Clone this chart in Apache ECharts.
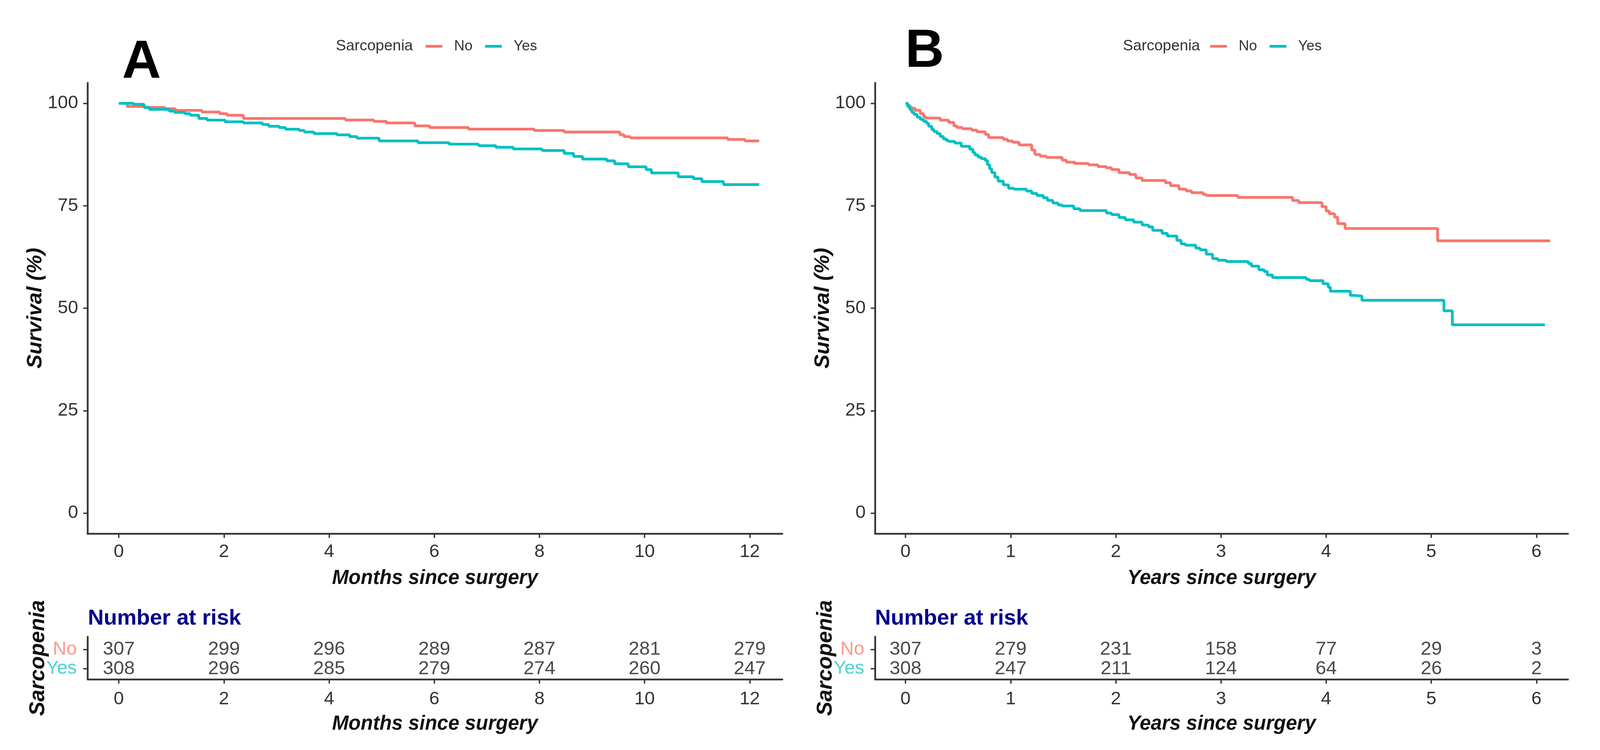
<!DOCTYPE html>
<html>
<head>
<meta charset="utf-8">
<script src="https://cdn.jsdelivr.net/npm/echarts@6/dist/echarts.min.js"></script>
<style>
html,body{margin:0;padding:0;background:#fff;overflow:hidden;}
#chart{width:100vw;height:100vh;}
</style>
</head>
<body>
<div id="chart"></div>
<script>
// ---------- DATA ----------
const monthTicks = [0, 2, 4, 6, 8, 10, 12];
const yearTicks = [0, 1, 2, 3, 4, 5, 6];
const survTicks = [0, 25, 50, 75, 100];
const groups = ['No', 'Yes'];

// Panel A (months): [time, survival %] after each step
const survA_No = [[0,100],[0.16,99.24],[0.5,98.99],[0.88,98.67],[1.08,98.29],[1.58,97.88],[1.92,97.47],[2.06,97.1],[2.37,96.3],[4.31,95.92],[4.85,95.58],[5.09,95.2],[5.63,94.5],[5.91,94.09],[6.65,93.71],[7.9,93.36],[8.47,92.98],[9.53,92.35],[9.61,91.88],[9.73,91.56],[11.58,91.18],[11.91,90.83],[12.18,90.83]];
const survA_Yes = [[0,100],[0.28,99.75],[0.48,99.0],[0.58,98.52],[0.96,98.1],[1.06,97.79],[1.26,97.47],[1.36,97.1],[1.52,96.3],[1.68,95.89],[2.02,95.5],[2.37,95.2],[2.73,94.82],[2.85,94.4],[3.05,94.09],[3.17,93.68],[3.43,93.36],[3.53,92.98],[3.71,92.6],[4.15,92.29],[4.39,91.88],[4.53,91.5],[4.95,90.83],[5.69,90.39],[6.28,90.04],[6.84,89.66],[7.17,89.28],[7.5,88.87],[8.05,88.49],[8.47,87.76],[8.65,87.04],[8.82,86.4],[9.28,85.96],[9.43,85.24],[9.69,84.5],[10.03,83.81],[10.13,83.0],[10.64,82.07],[10.93,81.6],[11.09,80.9],[11.5,80.17],[12.18,80.17]];

// Panel B (years)
const survB_No = [[0,100],[0.02,99.5],[0.04,99.0],[0.06,98.8],[0.09,98.3],[0.14,97.5],[0.17,96.8],[0.19,96.4],[0.33,95.87],[0.41,95.36],[0.46,94.5],[0.49,94.09],[0.54,93.79],[0.63,93.45],[0.68,93.03],[0.76,92.39],[0.79,91.63],[0.93,91.2],[0.97,90.79],[1.02,90.48],[1.08,89.85],[1.20,88.58],[1.23,87.52],[1.28,87.1],[1.34,86.8],[1.49,86.12],[1.53,85.62],[1.61,85.32],[1.74,84.98],[1.83,84.55],[1.91,84.26],[1.96,83.83],[2.03,83.07],[2.13,82.65],[2.19,81.8],[2.25,81.17],[2.47,80.62],[2.52,79.9],[2.60,79.05],[2.67,78.62],[2.72,78.2],[2.83,77.78],[2.86,77.49],[3.16,77.05],[3.68,76.28],[3.74,75.77],[3.96,74.78],[4.0,73.72],[4.03,73.07],[4.08,72.22],[4.11,70.64],[4.18,69.44],[5.06,66.45],[6.13,66.45]];
const survB_Yes = [[0,100],[0.02,99.2],[0.04,98.5],[0.06,97.8],[0.08,97.3],[0.11,96.6],[0.14,96.1],[0.17,95.6],[0.20,95.1],[0.22,94.4],[0.25,93.6],[0.27,93.1],[0.30,92.6],[0.33,91.9],[0.36,91.3],[0.39,90.9],[0.41,90.7],[0.47,90.3],[0.53,89.5],[0.61,88.8],[0.64,88.0],[0.66,87.4],[0.69,86.9],[0.72,86.5],[0.76,86.0],[0.78,85.0],[0.80,84.0],[0.82,83.1],[0.85,82.0],[0.88,81.0],[0.93,80.1],[0.98,79.27],[1.03,79.05],[1.15,78.6],[1.20,78.0],[1.25,77.5],[1.31,76.94],[1.35,76.3],[1.40,75.66],[1.45,75.2],[1.49,74.94],[1.60,74.26],[1.66,73.84],[1.91,73.2],[1.96,72.83],[2.03,72.15],[2.09,71.56],[2.17,71.0],[2.25,70.3],[2.31,69.86],[2.35,69.0],[2.44,68.26],[2.49,67.62],[2.58,66.56],[2.62,65.7],[2.66,65.37],[2.76,64.65],[2.80,64.22],[2.86,63.17],[2.92,62.1],[2.97,61.7],[3.05,61.4],[3.26,60.89],[3.29,60.26],[3.36,59.4],[3.41,58.97],[3.44,58.11],[3.49,57.48],[3.81,57.05],[3.84,56.71],[3.97,55.98],[4.02,55.12],[4.04,54.15],[4.23,53.11],[4.27,52.99],[4.34,51.92],[5.12,49.36],[5.20,45.94],[6.08,45.94]];

// Number at risk
const riskA_No = [307, 299, 296, 289, 287, 281, 279];
const riskA_Yes = [308, 296, 285, 279, 274, 260, 247];
const riskB_No = [307, 279, 231, 158, 77, 29, 3];
const riskB_Yes = [308, 247, 211, 124, 64, 26, 2];

// ---------- LAYOUT HELPERS (reference is 4350 x 1920) ----------
const W = 4350, H = 1920;
const px = v => (v / W * 100) + '%';
const py = v => (v / H * 100) + '%';

const FF = "'Liberation Sans', Arial, sans-serif";
const RED = '#F8766D', CYAN = '#00BFC4';
const LABEL_COL = { No: '#F97F78', Yes: '#22C6CB' };
const AXC = '#333333';
const rowValue = { No: 2, Yes: 1 };
const xRangeA = [-0.595, 12.62];
const xRangeB = [-0.29, 6.30];

function axisLineCfg() { return { show: true, onZero: false, lineStyle: { color: AXC, width: 4.5 } }; }
function tickCfg(vals) { return { show: true, length: 11, lineStyle: { color: AXC, width: 3.5 }, customValues: vals }; }

function xAxisCfg(grid, range, ticks, name, margin) {
  return {
    type: 'value', gridIndex: grid, min: range[0], max: range[1],
    axisLine: axisLineCfg(), axisTick: tickCfg(ticks), splitLine: { show: false },
    axisLabel: { customValues: ticks, showMinLabel: true, showMaxLabel: true, fontSize: 47, color: AXC, fontFamily: FF, margin: margin },
    name: name, nameLocation: 'middle', nameGap: 89,
    nameTextStyle: { fontSize: 51, fontWeight: 'bold', fontStyle: 'italic', color: '#111', fontFamily: FF }
  };
}
function yMainCfg(grid) {
  return {
    type: 'value', gridIndex: grid, min: -5, max: 105,
    axisLine: axisLineCfg(), axisTick: tickCfg(survTicks), splitLine: { show: false },
    axisLabel: { customValues: survTicks, showMinLabel: true, showMaxLabel: true, fontSize: 47, color: AXC, fontFamily: FF, margin: 24 },
    name: 'Survival (%)', nameLocation: 'middle', nameGap: 92,
    nameTextStyle: { fontSize: 54, fontWeight: 'bold', fontStyle: 'italic', color: '#111', fontFamily: FF }
  };
}
function yRiskCfg(grid) {
  return {
    type: 'value', gridIndex: grid, min: 0.45, max: 2.67,
    axisLine: axisLineCfg(), axisTick: tickCfg([1, 2]), splitLine: { show: false },
    axisLabel: { show: false },
    name: 'Sarcopenia', nameLocation: 'middle', nameGap: 99,
    nameTextStyle: { fontSize: 55, fontWeight: 'bold', fontStyle: 'italic', color: '#111', fontFamily: FF }
  };
}
function lineSeries(name, data, color, xi, yi) {
  return { type: 'line', name: name, data: data, step: 'end', showSymbol: false, symbol: 'none',
    color: color, lineStyle: { color: color, width: 7 }, xAxisIndex: xi, yAxisIndex: yi, animation: false, z: 3 };
}
function riskSeries(name, ticks, counts, row, xi, yi) {
  return { type: 'scatter', name: name, xAxisIndex: xi, yAxisIndex: yi, symbolSize: 1,
    itemStyle: { color: 'rgba(0,0,0,0)' }, animation: false, silent: true, clip: false,
    data: ticks.map((t, i) => [t, row, counts[i]]),
    labelLayout: { hideOverlap: false },
    label: { show: true, position: 'inside', offset: [0, 9], lineHeight: 42,
      formatter: p => String(p.value[2]), fontSize: 49, color: '#1c1c1c', fontFamily: FF } };
}
function rowLabelSeries(name, xmin, xi, yi) {
  return { type: 'scatter', name: name, xAxisIndex: xi, yAxisIndex: yi, symbolSize: 1,
    itemStyle: { color: 'rgba(0,0,0,0)' }, animation: false, silent: true, clip: false,
    labelLayout: { hideOverlap: false },
    data: groups.map(g => ({ value: [xmin, rowValue[g], g], label: { color: LABEL_COL[g] } })),
    label: { show: true, position: 'left', distance: 27, offset: [0, 8], lineHeight: 42,
      formatter: p => p.value[2], fontSize: 48, fontFamily: FF } };
}
function legendCfg(left) {
  return { left: px(left), top: py(100), padding: 0, icon: 'rect', itemWidth: 43, itemHeight: 7, itemGap: 32,
    selectedMode: false, data: groups,
    textStyle: { fontSize: 37, color: '#333', fontFamily: FF, padding: [0, 0, 0, 25] } };
}
function titleCfg(text, left, top, size, weight, color) {
  return { text: text, left: px(left), top: py(top), padding: 0,
    textStyle: { fontSize: size, fontWeight: weight, color: color, fontFamily: FF } };
}
function gridCfg(left, top, width, height) {
  return { left: px(left), top: py(top), width: px(width), height: py(height) };
}

const option = {
  backgroundColor: '#fff',
  animation: false,
  title: [
    titleCfg('A', 332, 92, 138, 'bold', '#000'),
    titleCfg('B', 2461, 64, 138, 'bold', '#000'),
    titleCfg('Sarcopenia', 913, 99, 39, 'normal', '#333'),
    titleCfg('Sarcopenia', 3053, 99, 39, 'normal', '#333'),
    titleCfg('Number at risk', 239, 1556, 56, 'bold', '#00008B'),
    titleCfg('Number at risk', 2379, 1556, 56, 'bold', '#00008B')
  ],
  legend: [legendCfg(1157), legendCfg(3290)],
  grid: [
    gridCfg(238, 212, 1889, 1154),
    gridCfg(238, 1630, 1889, 109),
    gridCfg(2379, 212, 1884, 1154),
    gridCfg(2379, 1630, 1884, 109)
  ],
  xAxis: [
    xAxisCfg(0, xRangeA, monthTicks, 'Months since surgery', 24),
    xAxisCfg(1, xRangeA, monthTicks, 'Months since surgery', 28),
    xAxisCfg(2, xRangeB, yearTicks, 'Years since surgery', 24),
    xAxisCfg(3, xRangeB, yearTicks, 'Years since surgery', 28)
  ],
  yAxis: [yMainCfg(0), yRiskCfg(1), yMainCfg(2), yRiskCfg(3)],
  series: [
    lineSeries('No', survA_No, RED, 0, 0),
    lineSeries('Yes', survA_Yes, CYAN, 0, 0),
    lineSeries('No', survB_No, RED, 2, 2),
    lineSeries('Yes', survB_Yes, CYAN, 2, 2),
    riskSeries('riskA_No', monthTicks, riskA_No, rowValue.No, 1, 1),
    riskSeries('riskA_Yes', monthTicks, riskA_Yes, rowValue.Yes, 1, 1),
    riskSeries('riskB_No', yearTicks, riskB_No, rowValue.No, 3, 3),
    riskSeries('riskB_Yes', yearTicks, riskB_Yes, rowValue.Yes, 3, 3),
    rowLabelSeries('rowsA', xRangeA[0], 1, 1),
    rowLabelSeries('rowsB', xRangeB[0], 3, 3)
  ]
};

const chart = echarts.init(document.getElementById('chart'), null, { renderer: 'canvas' });
chart.setOption(option);
window.addEventListener('resize', () => chart.resize());
</script>
</body>
</html>
